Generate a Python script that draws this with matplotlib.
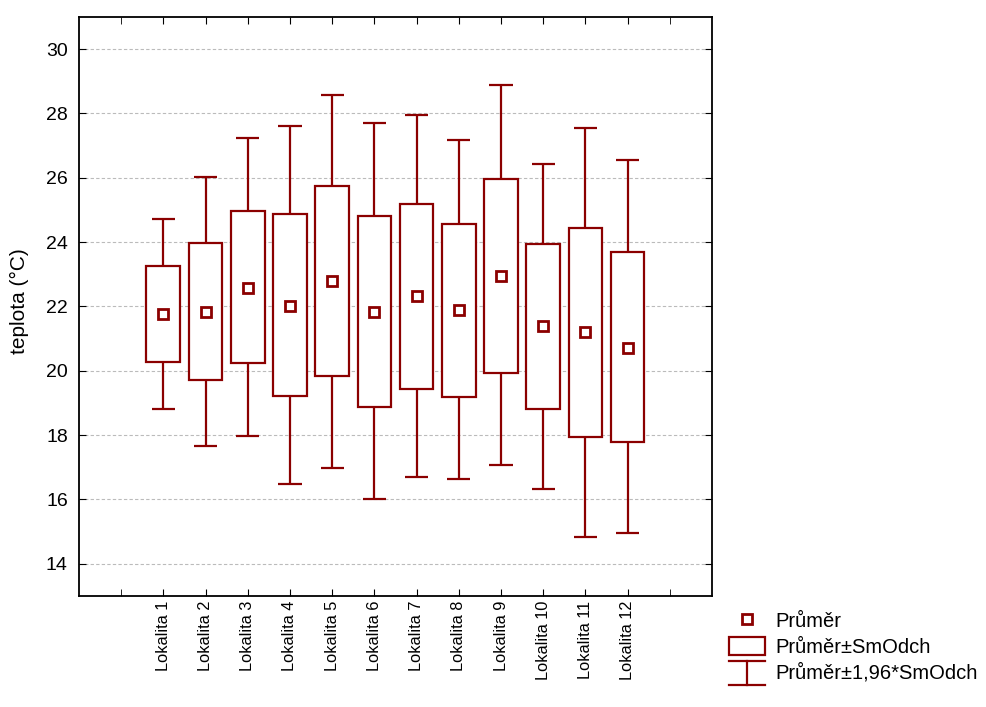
import matplotlib.pyplot as plt
from matplotlib.legend_handler import HandlerBase
from matplotlib.lines import Line2D
from matplotlib.patches import Rectangle

plt.rcParams["font.family"] = ["Liberation Sans", "DejaVu Sans"]

categories = [f"Lokalita {i}" for i in range(1, 13)]
mean = [21.78, 21.84, 22.59, 22.03, 22.78, 21.84, 22.34, 21.90, 22.95, 21.40, 21.21, 20.72]
box_hi = [23.27, 23.98, 24.98, 24.88, 25.75, 24.82, 25.19, 24.57, 25.97, 23.95, 24.43, 23.70]
box_lo = [20.26, 19.71, 20.23, 19.21, 19.83, 18.87, 19.45, 19.20, 19.94, 18.80, 17.93, 17.79]
whisk_hi = [24.73, 26.03, 27.24, 27.61, 28.57, 27.71, 27.96, 27.16, 28.87, 26.42, 27.55, 26.54]
whisk_lo = [18.81, 17.66, 17.97, 16.48, 16.98, 16.02, 16.70, 16.63, 17.06, 16.34, 14.82, 14.95]

red = "#8b0000"
lw = 1.6


class WhiskerHandler(HandlerBase):
    def create_artists(self, legend, orig_handle, xdescent, ydescent,
                       width, height, fontsize, trans):
        x0, x1 = -xdescent, -xdescent + width
        y0, y1 = -ydescent - 0.2 * height, -ydescent + 1.1 * height
        xm = (x0 + x1) / 2
        segs = [([x0, x1], [y1, y1]), ([xm, xm], [y0, y1]), ([x0, x1], [y0, y0])]
        return [Line2D(xs, ys, color=red, lw=lw, transform=trans) for xs, ys in segs]


class Whisker:
    pass


fig = plt.figure(figsize=(9.87, 7.07), dpi=100)
ax = fig.add_axes([0.080, 0.157, 0.6414, 0.819])

pos = list(range(1, len(categories) + 1))
box_w = 0.8
cap_w = 0.55
for x, m, bl, bh, wl, wh in zip(pos, mean, box_lo, box_hi, whisk_lo, whisk_hi):
    ax.vlines(x, bh, wh, color=red, lw=lw, zorder=2)
    ax.vlines(x, wl, bl, color=red, lw=lw, zorder=2)
    ax.hlines([wl, wh], x - cap_w / 2, x + cap_w / 2, color=red, lw=lw, zorder=2)
    ax.add_patch(Rectangle((x - box_w / 2, bl), box_w, bh - bl,
                           facecolor="white", edgecolor=red, lw=lw, zorder=3))
ax.plot(pos, mean, linestyle="none", marker="s", markersize=7,
        markerfacecolor="white", markeredgecolor=red, markeredgewidth=2, zorder=4)

ax.set_xlim(-1, 14)
ax.set_ylim(13, 31)
ax.set_yticks(range(14, 31, 2))
ax.set_xticks(pos)
ax.set_xticks(range(0, 14), minor=True)
ax.set_xticklabels(categories, rotation=90, fontsize=11.8)
ax.tick_params(axis="y", labelsize=14, direction="in", right=True, length=5, pad=8)
ax.tick_params(axis="x", which="both", direction="in", top=True, length=5)
ax.grid(axis="y", color="#bbbbbb", linestyle=(0, (3, 2)), lw=0.8)
ax.set_axisbelow(True)
for s in ax.spines.values():
    s.set_linewidth(1.3)
ax.set_ylabel("teplota (°C)", fontsize=15)
ax.yaxis.set_label_coords(-0.079, 0.51)

handles = [
    Line2D([], [], linestyle="none", marker="s", markersize=7,
           markerfacecolor="white", markeredgecolor=red, markeredgewidth=2),
    Rectangle((0, 0), 1, 1, facecolor="white", edgecolor=red, lw=lw),
    Whisker(),
]
labels = ["Průměr", "Průměr±SmOdch", "Průměr±1,96*SmOdch"]
fig.legend(handles, labels, loc="upper left", bbox_to_anchor=(729 / 987, 1 - 611 / 707),
           frameon=False, fontsize=14.5, handlelength=1.8, handleheight=1.0,
           handletextpad=0.5, labelspacing=0.3, borderaxespad=0, borderpad=0,
           handler_map={Whisker: WhiskerHandler()})

fig.savefig("out.png", dpi=100)
